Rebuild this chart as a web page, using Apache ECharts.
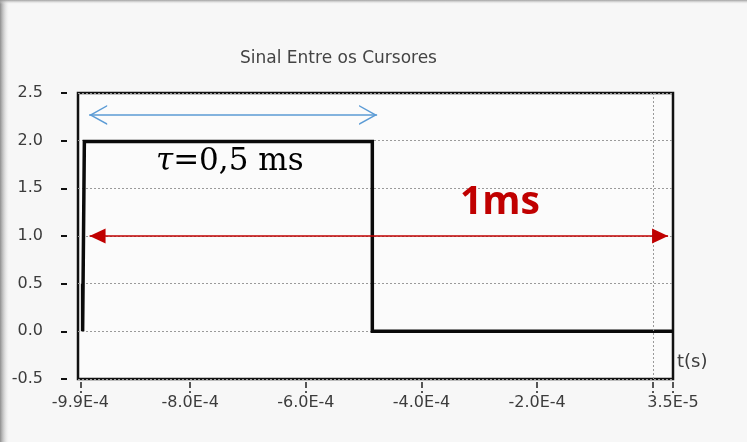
<!DOCTYPE html>
<html>
<head>
<meta charset="utf-8">
<script src="https://cdn.jsdelivr.net/npm/echarts@6/dist/echarts.min.js"></script>
<style>
  html, body { margin: 0; padding: 0; background: #f7f7f7; }
  #chart { width: 747px; height: 442px; }
</style>
</head>
<body>
<div id="chart"></div>
<script>
// ---- data ----
const chartTitle = 'Sinal Entre os Cursores';
const xAxisName = 't(s)';
const xMin = -9.94e-4;
const xMax = 3.5e-5;
const yMin = -0.5;
const yMax = 2.5;
const yStep = 0.5;
const xTickValues = [-9.9e-4, -8e-4, -6e-4, -4e-4, -2e-4, 0, 3.5e-5];
const xLabelValues = [-9.9e-4, -8e-4, -6e-4, -4e-4, -2e-4, 3.5e-5];
const xLabelTexts = ['-9.9E-4', '-8.0E-4', '-6.0E-4', '-4.0E-4', '-2.0E-4', '3.5E-5'];
const xGridValues = [-8e-4, -6e-4, -4e-4, -2e-4, 0];
const signalT = [-9.86e-4, -9.86e-4, -9.83e-4, -9.83e-4, -4.85e-4, -4.85e-4, 3.5e-5];
const signalV = [0.5, 0.0, 0.0, 1.99, 1.99, 0.0, 0.0];
const tauSpan = [-9.747e-4, -4.767e-4];
const tauLevel = 2.27;
const tauText = '0,5 ms';
const periodSpan = [-9.74e-4, 2.65e-5];
const periodLevel = 1.0;
const periodText = '1ms';

// ---- chart ----
const chart = echarts.init(document.getElementById('chart'));
const textColor = '#3c3c3c';
const labelFont = 'DejaVu Sans';

function xLabel(v) {
  for (let i = 0; i < xLabelValues.length; i++) {
    if (Math.abs(xLabelValues[i] - v) < 1e-9) return xLabelTexts[i];
  }
  return '';
}

const chevron = 'path://M0,18 L10,0 L20,18 L18.4,18 L10,3 L1.6,18 Z';

chart.setOption({
  backgroundColor: '#f7f7f7',
  animation: false,
  title: {
    text: chartTitle,
    left: 240,
    top: 50,
    padding: 0,
    textStyle: { fontFamily: labelFont, fontSize: 17, fontWeight: 'normal', color: '#444' }
  },
  grid: {
    left: 78, top: 93, right: 74, bottom: 63,
    show: true,
    backgroundColor: '#fbfbfb',
    borderColor: '#111',
    borderWidth: 2.5
  },
  xAxis: {
    type: 'value',
    min: xMin,
    max: xMax,
    offset: 3,
    name: xAxisName,
    nameLocation: 'end',
    nameGap: 4,
    nameTextStyle: {
      fontFamily: labelFont, fontSize: 18, color: textColor,
      align: 'left', verticalAlign: 'bottom', padding: [0, 0, 11, 0]
    },
    axisLine: { show: false, onZero: false },
    axisTick: {
      show: true, length: 11, inside: false,
      customValues: xTickValues,
      lineStyle: { color: '#222', width: 1.5, type: [6, 3] }
    },
    axisLabel: {
      customValues: xLabelValues,
      margin: 13,
      fontFamily: labelFont, fontSize: 16, color: textColor,
      formatter: xLabel,
      showMinLabel: true, showMaxLabel: true
    },
    splitLine: { show: false }
  },
  yAxis: {
    type: 'value',
    min: yMin,
    max: yMax,
    interval: yStep,
    offset: 11,
    axisLine: { show: false, onZero: false },
    axisTick: { show: true, length: 6, lineStyle: { color: '#111', width: 2 } },
    axisLabel: {
      margin: 24,
      fontFamily: labelFont, fontSize: 16, color: textColor,
      formatter: v => v.toFixed(1)
    },
    splitLine: { show: true, lineStyle: { color: '#9a9a9a', width: 1, type: [2, 2] } }
  },
  series: [
    {
      type: 'line',
      name: 'grid',
      data: [],
      silent: true,
      z: 1,
      markLine: {
        silent: true,
        symbol: ['none', 'none'],
        label: { show: false },
        lineStyle: { color: '#9a9a9a', width: 1, type: [2, 2] },
        data: xGridValues.map(v => ({ xAxis: v }))
      }
    },
    {
      type: 'line',
      name: 'signal',
      data: signalT.map((t, i) => [t, signalV[i]]),
      showSymbol: false,
      symbol: 'none',
      z: 3,
      lineStyle: { color: '#0a0a0a', width: 3.5, join: 'miter' },
      silent: true
    },
    {
      type: 'line',
      name: 'tau',
      data: [],
      silent: true,
      z: 4,
      markLine: {
        silent: true,
        symbol: [chevron, chevron],
        symbolSize: [20, 18],
        symbolOffset: [[0, 9], [0, 9]],
        label: { show: false },
        lineStyle: { color: '#5b9bd5', width: 1.5, type: 'solid' },
        itemStyle: { color: '#5b9bd5' },
        data: [[{ coord: [tauSpan[0], tauLevel] }, { coord: [tauSpan[1], tauLevel] }]]
      }
    },
    {
      type: 'line',
      name: 'period',
      data: [],
      silent: true,
      z: 4,
      markLine: {
        silent: true,
        symbol: ['triangle', 'triangle'],
        symbolSize: [15, 16],
        symbolOffset: [[0, 8], [0, 8]],
        label: { show: false },
        lineStyle: { color: '#c00000', width: 1.5, type: 'solid' },
        itemStyle: { color: '#c00000' },
        data: [[{ coord: [periodSpan[0], periodLevel] }, { coord: [periodSpan[1], periodLevel] }]]
      }
    }
  ],
  graphic: [
    {
      type: 'rect', left: 0, top: 0, z: 100, silent: true,
      shape: { width: 9, height: 442 },
      style: { fill: new echarts.graphic.LinearGradient(0, 0, 1, 0, [
        { offset: 0, color: 'rgba(130,130,130,0.9)' },
        { offset: 1, color: 'rgba(230,230,230,0)' }
      ]) }
    },
    {
      type: 'rect', left: 0, top: 0, z: 100, silent: true,
      shape: { width: 747, height: 4 },
      style: { fill: new echarts.graphic.LinearGradient(0, 0, 0, 1, [
        { offset: 0, color: 'rgba(150,150,150,0.9)' },
        { offset: 1, color: 'rgba(230,230,230,0)' }
      ]) }
    },
    {
      type: 'text', z: 50, silent: true,
      style: {
        x: 156, y: 162,
        text: '{t|τ}{r|=' + tauText + '}',
        verticalAlign: 'middle',
        rich: {
          t: { fontFamily: 'DejaVu Serif', fontStyle: 'italic', fontSize: 31, fill: '#000' },
          r: { fontFamily: 'DejaVu Serif', fontSize: 31, fill: '#000' }
        }
      }
    },
    {
      type: 'text', z: 50, silent: true,
      style: {
        x: 500, y: 203,
        text: periodText,
        align: 'center',
        verticalAlign: 'middle',
        font: 'bold 39px "Open Sans"',
        fill: '#c00000'
      }
    }
  ]
});
</script>
</body>
</html>
